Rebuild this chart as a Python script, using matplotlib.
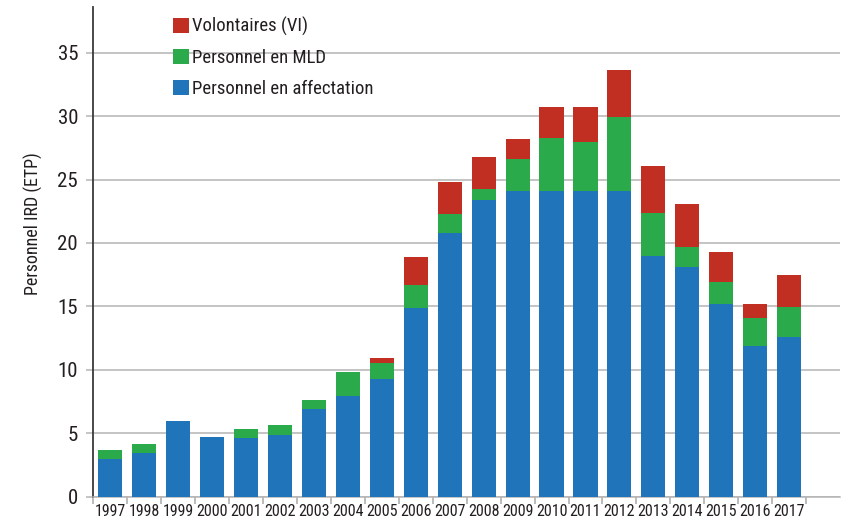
import matplotlib
matplotlib.use("Agg")
import matplotlib.pyplot as plt
from matplotlib import font_manager
import numpy as np

# pick a narrow / condensed sans face if one is installed
_cands = []
for f in font_manager.fontManager.ttflist:
    fn = f.fname.lower()
    if ('narrow' in fn or 'condensed' in fn) and 'bold' not in fn and 'italic' not in fn \
            and 'oblique' not in fn and 'light' not in fn and 'mono' not in fn and 'serif' not in fn:
        _cands.append(f)
_pref = ['liberationsansnarrow', 'robotocondensed', 'opensans_condensed', 'opensanscondensed',
         'dejavusanscondensed']
_chosen = None
for p in _pref:
    for f in _cands:
        if p in f.fname.lower().replace('-', '').replace(' ', ''):
            _chosen = f
            break
    if _chosen:
        break
if _chosen is None and _cands:
    _chosen = _cands[0]
if _chosen is not None:
    plt.rcParams['font.family'] = [_chosen.name, 'DejaVu Sans']
    plt.rcParams['font.stretch'] = _chosen.stretch
else:
    plt.rcParams['font.family'] = ['DejaVu Sans']

years = ['1997', '1998', '1999', '2000', '2001', '2002', '2003', '2004', '2005', '2006', '2007',
         '2008', '2009', '2010', '2011', '2012', '2013', '2014', '2015', '2016', '2017']
affectation = [3.0, 3.45, 6.0, 4.7, 4.6, 4.85, 6.9, 7.95, 9.3, 14.9, 20.8,
               23.4, 24.1, 24.1, 24.1, 24.1, 19.0, 18.1, 15.2, 11.9, 12.55]
mld = [0.7, 0.7, 0.0, 0.0, 0.7, 0.8, 0.7, 1.9, 1.2, 1.8, 1.5,
       0.87, 2.5, 4.2, 3.85, 5.85, 3.35, 1.55, 1.7, 2.2, 2.4]
vi = [0.0, 0.0, 0.0, 0.0, 0.0, 0.0, 0.0, 0.0, 0.47, 2.2, 2.5,
      2.5, 1.6, 2.45, 2.75, 3.65, 3.75, 3.45, 2.35, 1.1, 2.5]
labels = ['Personnel en affectation', 'Personnel en MLD', 'Volontaires (VI)']
colors = ['#1F74BA', '#2AAA4A', '#C02F21']
yticks = [0, 5, 10, 15, 20, 25, 30, 35]

W, H = 843, 520
fig = plt.figure(figsize=(W / 100, H / 100), dpi=100)
ax = fig.add_axes([93.4 / W, (H - 496.7) / H, (840 - 93.4) / W, (496.7 - 7) / H])

x = np.arange(len(years))
a = np.array(affectation)
m = np.array(mld)
v = np.array(vi)
bw = 0.71
b1 = ax.bar(x, a, bw, color=colors[0], label=labels[0], zorder=3)
b2 = ax.bar(x, m, bw, bottom=a, color=colors[1], label=labels[1], zorder=3)
b3 = ax.bar(x, v, bw, bottom=a + m, color=colors[2], label=labels[2], zorder=3)

ax.set_xlim(-0.5, len(years) + 0.5)
ax.set_ylim(0, 38.6)
ax.set_yticks(yticks)
ax.set_yticklabels([str(t) for t in yticks])
ax.yaxis.grid(True, color='#b4b4b4', linewidth=1.1, zorder=0)
ax.tick_params(axis='y', length=5, width=1.1, color='#b4b4b4', labelsize=15, pad=6,
               labelcolor='#231f20')

ax.set_xticks(x)
ax.set_xticklabels(years)
ax.set_xticks(np.arange(len(years) + 1) - 0.5, minor=True)
ax.tick_params(axis='x', which='major', length=0, labelsize=11.5, pad=5, labelcolor='#231f20')
ax.tick_params(axis='x', which='minor', length=5, width=1.1, color='#a8a8a8')

for s in ['top', 'right']:
    ax.spines[s].set_visible(False)
ax.spines['bottom'].set_color('#b4b4b4')
ax.spines['bottom'].set_linewidth(1.1)
ax.spines['left'].set_color('#3a3a3a')
ax.spines['left'].set_linewidth(1.3)
ax.spines['left'].set_bounds(0, 38.6)

fig.text(33 / W, (H - 224) / H, 'Personnel IRD (ETP)', rotation=90, ha='center', va='center',
         fontsize=13, color='#231f20')

leg = ax.legend([b3, b2, b1], [labels[2], labels[1], labels[0]],
                loc='upper left', bbox_to_anchor=(173 / W, (H - 17) / H),
                bbox_transform=fig.transFigure, frameon=False, fontsize=13.5,
                handlelength=0.85, handleheight=0.85, handletextpad=0.18,
                labelspacing=0.68, borderpad=0, borderaxespad=0)
for t in leg.get_texts():
    t.set_color('#231f20')

fig.savefig('out.png', dpi=100)
